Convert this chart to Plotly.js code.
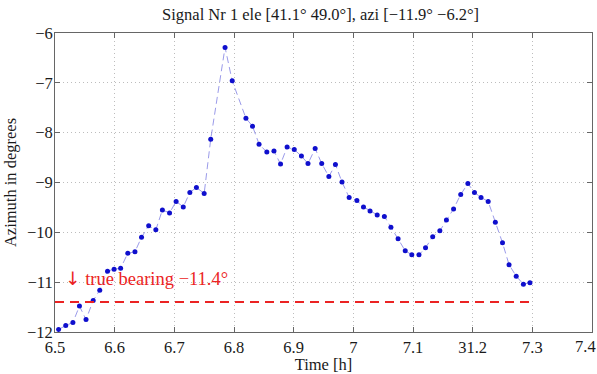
<!DOCTYPE html>
<html>
<head>
<meta charset="utf-8">
<script src="https://cdn.plot.ly/plotly-3.0.1.min.js"></script>
<style>html,body{margin:0;padding:0;background:#fff;}#chart{width:597px;height:374px;}</style>
</head>
<body>
<div id="chart"></div>
<script>
const timeH = [6.506,6.518,6.530,6.541,6.552,6.564,6.575,6.588,6.599,6.610,6.622,6.634,6.645,6.657,6.669,6.680,6.692,6.703,6.715,6.726,6.737,6.750,6.761,6.785,6.797,6.820,6.831,6.842,6.855,6.867,6.878,6.889,6.901,6.913,6.924,6.936,6.947,6.959,6.970,6.981,6.993,7.006,7.017,7.028,7.040,7.052,7.063,7.075,7.087,7.098,7.110,7.121,7.133,7.145,7.156,7.168,7.180,7.192,7.203,7.214,7.226,7.238,7.250,7.261,7.273,7.285,7.296];
const azimuth = [-11.95,-11.87,-11.81,-11.48,-11.75,-11.37,-11.16,-10.78,-10.74,-10.72,-10.42,-10.39,-10.10,-9.87,-9.95,-9.55,-9.61,-9.38,-9.49,-9.20,-9.10,-9.22,-8.13,-6.29,-6.96,-7.71,-7.87,-8.23,-8.39,-8.37,-8.63,-8.29,-8.34,-8.47,-8.62,-8.32,-8.62,-8.88,-8.64,-8.99,-9.30,-9.36,-9.49,-9.57,-9.65,-9.68,-9.90,-10.13,-10.37,-10.45,-10.45,-10.31,-10.09,-9.97,-9.75,-9.53,-9.24,-9.02,-9.20,-9.30,-9.38,-9.80,-10.21,-10.65,-10.88,-11.04,-11.01];
const trueBearing = -11.4;
const bearingX = [6.5, 7.3];
const xTickVals = [6.5,6.6,6.7,6.8,6.9,7.0,7.1,7.2,7.3,7.4];
const xTickText = ["6.5","6.6","6.7","6.8","6.9","7","7.1","31.2","7.3","7.4"];
const yTickVals = [-12,-11,-10,-9,-8,-7,-6];
const yTickText = ["\u221212","\u221211","\u221210","\u22129","\u22128","\u22127","\u22126"];
const titleText = "Signal Nr 1 ele [41.1\u00b0 49.0\u00b0], azi [\u221211.9\u00b0 \u22126.2\u00b0]";
const labelText = "<span style='font-family:DejaVu Sans'>\u2193</span> true bearing \u221211.4\u00b0";

const font = "Liberation Serif, Times New Roman, serif";
const txt = '#1a1a1a';
// last x tick label is drawn right-aligned at the edge (as in the reference) so it is not cut off
const lastIdx = xTickVals.length - 1;
const axisTickText = xTickText.map((t, i) => i === lastIdx ? '' : t);

const traces = [
  {x: timeH, y: azimuth, type: 'scatter', mode: 'lines+markers',
   line: {color: 'rgba(120,120,225,0.75)', width: 1, dash: '7px,4px'},
   marker: {color: 'rgb(15,15,205)', size: 5}, hoverinfo: 'none'},
  {x: bearingX, y: [trueBearing, trueBearing], type: 'scatter', mode: 'lines',
   line: {color: 'rgb(235,35,35)', width: 2, dash: '9px,6px'}, hoverinfo: 'none'}
];
const axisCommon = {
  showline: true, mirror: 'ticks', linecolor: '#666', linewidth: 1,
  ticks: 'inside', ticklen: 5, tickcolor: '#666',
  showgrid: true, gridcolor: '#bdbdbd', griddash: '1px,3px', gridwidth: 1,
  zeroline: false, tickfont: {family: font, size: 16.5, color: txt}
};
const layout = {
  width: 597, height: 374,
  margin: {l: 55, r: 5, t: 33, b: 42},
  paper_bgcolor: '#fff', plot_bgcolor: '#fff',
  showlegend: false,
  title: {text: titleText, font: {family: font, size: 16.5, color: txt}, x: 0.537, xanchor: 'center', y: 0.962, yanchor: 'middle'},
  xaxis: Object.assign({}, axisCommon, {range: [6.5, 7.4], tickvals: xTickVals, ticktext: axisTickText, ticklabelstandoff: 0,
    title: {text: 'Time [h]', font: {family: font, size: 16.5, color: txt}, standoff: 0}}),
  yaxis: Object.assign({}, axisCommon, {range: [-12, -6], tickvals: yTickVals, ticktext: yTickText, ticklabelstandoff: -2,
    title: {text: 'Azimuth in degrees', font: {family: font, size: 16.5, color: txt}, standoff: 6}}),
  annotations: [
    {x: 6.513, y: -10.92, xref: 'x', yref: 'y', text: labelText, showarrow: false,
     xanchor: 'left', yanchor: 'middle', font: {family: font, size: 18.5, color: 'rgb(235,35,35)'}},
    {x: xTickVals[lastIdx], y: 0, xref: 'x', yref: 'paper', text: xTickText[lastIdx], showarrow: false,
     xanchor: 'right', yanchor: 'top', xshift: 5, yshift: -4, borderpad: 0,
     font: {family: font, size: 16.5, color: txt}}
  ]
};
Plotly.newPlot('chart', traces, layout, {staticPlot: true, displayModeBar: false});
</script>
</body>
</html>
